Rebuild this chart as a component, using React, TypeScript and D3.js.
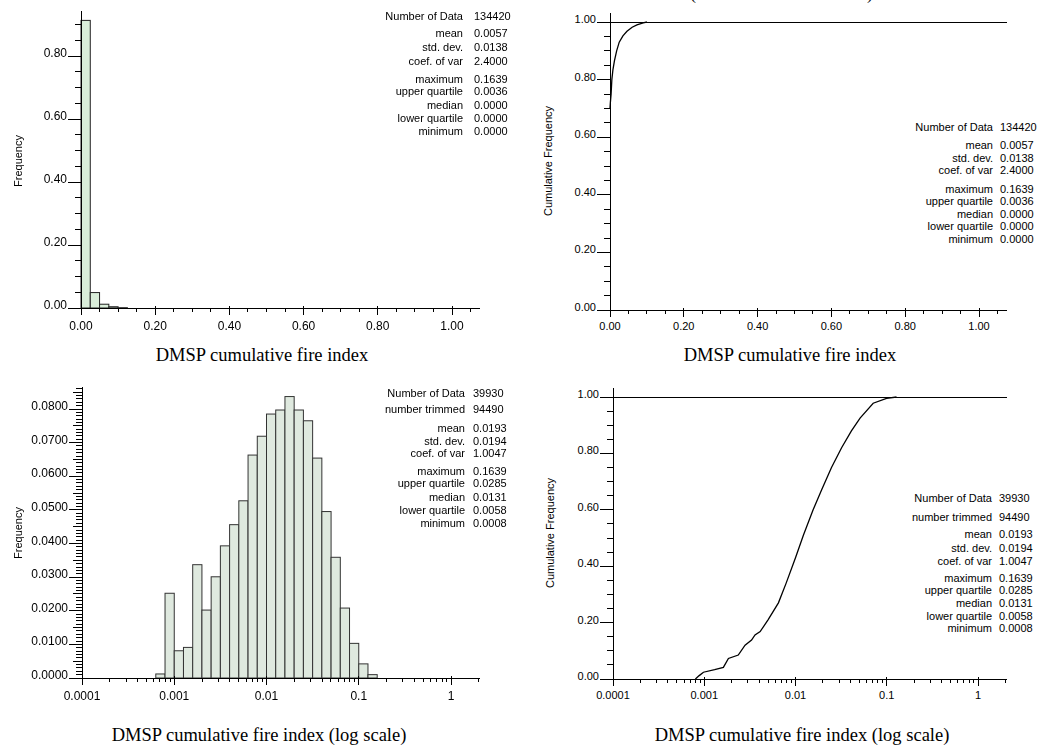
import React from "react";
import * as d3 from "d3";

// ---------------- data ----------------
const linBinWidth = 0.025;
const linHistFreq = [0.913, 0.049, 0.012, 0.004, 0.001];

const logBinStart = -3.2; // log10 of first bin edge
const logBinWidth = 0.1;
const logHistFreq = [
  0.0012, 0.0252, 0.0081, 0.0091, 0.0337, 0.0202, 0.0301, 0.0393, 0.0456, 0.0527,
  0.0663, 0.0719, 0.0785, 0.0797, 0.0837, 0.0797, 0.0765, 0.0654, 0.0495, 0.0359,
  0.0208, 0.0103, 0.0042, 0.001,
];

const cdfAllX = [0, 0.001, 0.003, 0.005, 0.008, 0.012, 0.018, 0.025, 0.035, 0.046, 0.06, 0.073, 0.09, 0.1];
const cdfAllY = [0.7, 0.72, 0.75, 0.8, 0.835, 0.865, 0.9, 0.93, 0.952, 0.968, 0.982, 0.99, 0.997, 1.0];

const cdfTrimX = [
  0.0008, 0.00088, 0.00098, 0.0013, 0.00162, 0.00184, 0.00236, 0.0028, 0.0033, 0.0036,
  0.0041, 0.005, 0.0065, 0.0079, 0.01, 0.0122, 0.0156, 0.0193, 0.0248, 0.032, 0.041,
  0.051, 0.071, 0.0995, 0.128,
];
const cdfTrimY = [
  0, 0.012, 0.024, 0.033, 0.041, 0.073, 0.085, 0.12, 0.138, 0.156,
  0.168, 0.21, 0.27, 0.34, 0.43, 0.51, 0.6, 0.67, 0.75, 0.82, 0.88,
  0.925, 0.978, 0.995, 1.0,
];

const linTickValues = [0, 0.2, 0.4, 0.6, 0.8, 1.0];
const freqTickValues = [0, 0.2, 0.4, 0.6, 0.8];
const cumTickValues = [0, 0.2, 0.4, 0.6, 0.8, 1.0];
const logTickValues = [0.0001, 0.001, 0.01, 0.1, 1];
const logTickLabels = ["0.0001", "0.001", "0.01", "0.1", "1"];
const logFreqTickValues = [0, 0.01, 0.02, 0.03, 0.04, 0.05, 0.06, 0.07, 0.08];

const statLabelsAll = ["Number of Data", "mean", "std. dev.", "coef. of var", "maximum", "upper quartile", "median", "lower quartile", "minimum"];
const statValuesAll = ["134420", "0.0057", "0.0138", "2.4000", "0.1639", "0.0036", "0.0000", "0.0000", "0.0000"];
const statLabelsTrim = ["Number of Data", "number trimmed", "mean", "std. dev.", "coef. of var", "maximum", "upper quartile", "median", "lower quartile", "minimum"];
const statValuesTrim = ["39930", "94490", "0.0193", "0.0194", "1.0047", "0.1639", "0.0285", "0.0131", "0.0058", "0.0008"];

const captionLin = "DMSP cumulative fire index";
const captionLog = "DMSP cumulative fire index (log scale)";
const yTitleHist = "Frequency";
const yTitleCum = "Cumulative Frequency";

// ---------------- helpers ----------------
const SANS = "'Liberation Sans', Arial, Helvetica, sans-serif";
const SERIF = "'Liberation Serif', 'Times New Roman', serif";

function logMinor(maxV: number) {
  const out: number[] = [];
  for (let e = -4; e <= 0; e++) {
    for (let k = 2; k <= 9; k++) {
      const v = k * Math.pow(10, e);
      if (v <= maxV) out.push(v);
    }
  }
  return out;
}

function linMinor(step: number, maxV: number, majors: number[]) {
  const out: number[] = [];
  for (let i = 0; i * step <= maxV + 1e-9; i++) {
    const v = i * step;
    if (!majors.some((m) => Math.abs(m - v) < 1e-9)) out.push(v);
  }
  return out;
}

type AxesProps = {
  xs: any;
  ys: any;
  xEnd: number;
  yTop: number;
  xMajor: number[];
  xLabels: string[];
  xMinor: number[];
  yMajor: number[];
  yLabels: string[];
  yMinor: number[];
  yMid?: number[];
  fs: number;
  xLabGap: number;
};

function Axes(p: AxesProps) {
  const x0 = p.xs.range()[0];
  const yb = p.ys.range()[0];
  return (
    <g stroke="#000" strokeWidth={1} shapeRendering="crispEdges">
      <line x1={x0} x2={x0} y1={p.yTop} y2={yb} />
      <line x1={x0} x2={p.xEnd} y1={yb} y2={yb} />
      {p.yMinor.map((v, i) => (
        <line key={"ym" + i} x1={x0 - 6} x2={x0} y1={p.ys(v)} y2={p.ys(v)} />
      ))}
      {(p.yMid || []).map((v, i) => (
        <line key={"yd" + i} x1={x0 - 9} x2={x0} y1={p.ys(v)} y2={p.ys(v)} />
      ))}
      {p.yMajor.map((v, i) => (
        <g key={"yM" + i}>
          <line x1={x0 - 13} x2={x0} y1={p.ys(v)} y2={p.ys(v)} />
          <text x={x0 - 14} y={p.ys(v) + 1} textAnchor="end" stroke="none" fill="#000" fontFamily={SANS} fontSize={p.fs}>
            {p.yLabels[i]}
          </text>
        </g>
      ))}
      {p.xMinor.map((v, i) => (
        <line key={"xm" + i} x1={p.xs(v)} x2={p.xs(v)} y1={yb} y2={yb + 4} />
      ))}
      {p.xMajor.map((v, i) => (
        <g key={"xM" + i}>
          <line x1={p.xs(v)} x2={p.xs(v)} y1={yb - 2} y2={yb + 7} />
          <text x={p.xs(v)} y={yb + p.xLabGap} textAnchor="middle" stroke="none" fill="#000" fontFamily={SANS} fontSize={p.fs}>
            {p.xLabels[i]}
          </text>
        </g>
      ))}
    </g>
  );
}

function Stats(props: { labels: string[]; values: string[]; rows: number[]; labelX: number; valueX: number; fs: number }) {
  return (
    <g fontFamily={SANS} fontSize={props.fs} fill="#000">
      {props.labels.map((l, i) => (
        <g key={i}>
          <text x={props.labelX} y={props.rows[i] + 4} textAnchor="end">{l}</text>
          <text x={props.valueX} y={props.rows[i] + 4}>{props.values[i]}</text>
        </g>
      ))}
    </g>
  );
}

export default function App() {
  // ---- top-left: histogram, linear ----
  const tlX = d3.scaleLinear().domain([0, 1]).range([81, 452]);
  const tlY = d3.scaleLinear().domain([0, 0.8]).range([308, 56]);
  const tlXEnd = tlX(1.075);

  // ---- top-right: cdf, linear ----
  const trX = d3.scaleLinear().domain([0, 1]).range([610, 979]);
  const trY = d3.scaleLinear().domain([0, 1]).range([310, 22]);
  const trXEnd = trX(1.076);

  // ---- bottom-left: histogram, log ----
  const blX = d3.scaleLog().domain([1e-4, 1]).range([82, 451]);
  const blY = d3.scaleLinear().domain([0, 0.08]).range([678, 409]);
  const blXEnd = 480;

  // ---- bottom-right: cdf, log ----
  const brX = d3.scaleLog().domain([1e-4, 1]).range([613, 978]);
  const brY = d3.scaleLinear().domain([0, 1]).range([679, 397]);
  const brXEnd = 1007;

  const fmt2 = d3.format(".2f");
  const fmt4 = d3.format(".4f");

  const lineAll = d3
    .line<number>()
    .x((_, i) => trX(cdfAllX[i]))
    .y((d) => trY(d));
  const lineTrim = d3
    .line<number>()
    .x((_, i) => brX(cdfTrimX[i]))
    .y((d) => brY(d));

  const logMinorY: number[] = [];
  const logMidY: number[] = [];
  for (let i = 0; i <= 86; i++) {
    const v = i / 1000;
    if (i % 10 === 0) continue;
    if (i % 5 === 0) logMidY.push(v);
    else logMinorY.push(v);
  }

  return (
    <svg
      width={1039}
      height={747}
      viewBox="0 0 1039 747"
      style={{ position: "absolute", left: 0, top: 0, background: "#fff" }}
    >
      <defs>
        <filter id="soft" x="-5%" y="-5%" width="110%" height="110%">
          <feGaussianBlur stdDeviation={0.55} />
        </filter>
      </defs>
      <rect x={0} y={0} width={1039} height={747} fill="#fff" />

      {/* clipped title remnants */}
      <text x={693} y={-1} fontFamily={SERIF} fontSize={18} textAnchor="middle">(</text>
      <text x={870} y={-1} fontFamily={SERIF} fontSize={18} textAnchor="middle">)</text>

      {/* ---------- top-left ---------- */}
      <g filter="url(#soft)">
        {linHistFreq.map((f, i) => (
          <rect
            key={i}
            x={tlX(i * linBinWidth)}
            y={tlY(f)}
            width={tlX((i + 1) * linBinWidth) - tlX(i * linBinWidth)}
            height={tlY(0) - tlY(f)}
            fill="#d9edd9"
            stroke="#222"
            strokeWidth={1}
          />
        ))}
        <Axes
          xs={tlX}
          ys={tlY}
          xEnd={tlXEnd}
          yTop={11}
          xMajor={linTickValues}
          xLabels={linTickValues.map(fmt2)}
          xMinor={linMinor(0.05, 1.05, linTickValues)}
          yMajor={freqTickValues}
          yLabels={freqTickValues.map(fmt2)}
          yMinor={linMinor(0.05, 0.9, freqTickValues)}
          fs={12}
          xLabGap={22}
        />
        <text transform={`translate(22,161) rotate(-90)`} textAnchor="middle" fontFamily={SANS} fontSize={11}>
          {yTitleHist}
        </text>
        <Stats labels={statLabelsAll} values={statValuesAll} rows={[16, 33, 47, 61, 79, 91, 105, 118, 131]} labelX={463} valueX={474} fs={11} />
      </g>
      <text x={262} y={361} textAnchor="middle" fontFamily={SERIF} fontSize={18.5}>{captionLin}</text>

      {/* ---------- top-right ---------- */}
      <line x1={trX(0)} x2={trXEnd} y1={trY(1)} y2={trY(1)} stroke="#000" strokeWidth={1} shapeRendering="crispEdges" />
      <Axes
        xs={trX}
        ys={trY}
        xEnd={trXEnd}
        yTop={13}
        xMajor={linTickValues}
        xLabels={linTickValues.map(fmt2)}
        xMinor={linMinor(0.05, 1.05, linTickValues)}
        yMajor={cumTickValues}
        yLabels={cumTickValues.map(fmt2)}
        yMinor={linMinor(0.05, 1.0, cumTickValues)}
        fs={11}
        xLabGap={20}
      />
      <path d={lineAll(cdfAllY) || ""} fill="none" stroke="#000" strokeWidth={1.3} />
      <text transform={`translate(552,161) rotate(-90)`} textAnchor="middle" fontFamily={SANS} fontSize={11}>
        {yTitleCum}
      </text>
      <Stats labels={statLabelsAll} values={statValuesAll} rows={[127, 145, 157.5, 170, 188.5, 201, 213.5, 226, 238.5]} labelX={993} valueX={1000} fs={11} />
      <text x={790} y={361} textAnchor="middle" fontFamily={SERIF} fontSize={18.5}>{captionLin}</text>

      {/* ---------- bottom-left ---------- */}
      <g filter="url(#soft)">
        {logHistFreq.map((f, i) => {
          const a = Math.pow(10, logBinStart + i * logBinWidth);
          const b = Math.pow(10, logBinStart + (i + 1) * logBinWidth);
          return (
            <rect
              key={i}
              x={blX(a)}
              y={blY(f)}
              width={blX(b) - blX(a)}
              height={blY(0) - blY(f)}
              fill="#dfe9df"
              stroke="#333"
              strokeWidth={1}
            />
          );
        })}
        <Axes
          xs={blX}
          ys={blY}
          xEnd={blXEnd}
          yTop={387}
          xMajor={logTickValues}
          xLabels={logTickLabels}
          xMinor={logMinor(2.05)}
          yMajor={logFreqTickValues}
          yLabels={logFreqTickValues.map(fmt4)}
          yMinor={logMinorY}
          yMid={logMidY}
          fs={12}
          xLabGap={22}
        />
        <text transform={`translate(22,533) rotate(-90)`} textAnchor="middle" fontFamily={SANS} fontSize={11}>
          {yTitleHist}
        </text>
        <Stats labels={statLabelsTrim} values={statValuesTrim} rows={[393, 409, 428, 441, 453, 471, 483, 497, 510, 523]} labelX={465} valueX={473} fs={11} />
      </g>
      <text x={259} y={741} textAnchor="middle" fontFamily={SERIF} fontSize={18.5}>{captionLog}</text>

      {/* ---------- bottom-right ---------- */}
      <line x1={brX(1e-4)} x2={brXEnd} y1={brY(1)} y2={brY(1)} stroke="#000" strokeWidth={1} shapeRendering="crispEdges" />
      <Axes
        xs={brX}
        ys={brY}
        xEnd={brXEnd}
        yTop={388}
        xMajor={logTickValues}
        xLabels={logTickLabels}
        xMinor={logMinor(2.05)}
        yMajor={cumTickValues}
        yLabels={cumTickValues.map(fmt2)}
        yMinor={linMinor(0.05, 1.0, cumTickValues)}
        fs={11}
        xLabGap={20}
      />
      <path d={lineTrim(cdfTrimY) || ""} fill="none" stroke="#000" strokeWidth={1.3} />
      <text transform={`translate(554,533) rotate(-90)`} textAnchor="middle" fontFamily={SANS} fontSize={11}>
        {yTitleCum}
      </text>
      <Stats labels={statLabelsTrim} values={statValuesTrim} rows={[498, 517, 534, 548, 561, 578, 590, 603, 616, 628]} labelX={992} valueX={999} fs={11} />
      <text x={802} y={741} textAnchor="middle" fontFamily={SERIF} fontSize={18.5}>{captionLog}</text>
    </svg>
  );
}
